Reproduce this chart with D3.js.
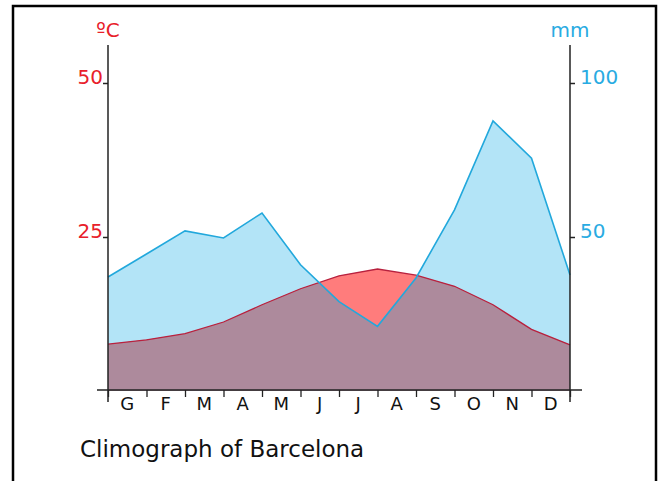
<!DOCTYPE html>
<html><head><meta charset="utf-8">
<script src="https://cdn.jsdelivr.net/npm/d3@7"></script>
<style>body{margin:0;background:#fff}svg{display:block}text{font-family:"DejaVu Sans",Verdana,sans-serif}</style>
</head><body>
<svg id="c" width="660" height="481"></svg>
<script>
const months = ["G","F","M","A","M","J","J","A","S","O","N","D"];
// values at month boundaries (start of Jan ... end of Dec)
const temperature = [7.6, 8.3, 9.3, 11.2, 14, 16.6, 18.7, 19.8, 18.8, 17, 14, 10, 7.5];
const precipitation = [37, 44.5, 52, 49.7, 57.8, 41, 29, 21, 36.7, 58.8, 87.7, 75.6, 37.7];
const tempTicks = [25, 50];
const precTicks = [50, 100];
const title = "Climograph of Barcelona";

const svg = d3.select("#c");
const x = d3.scaleLinear().domain([0, 12]).range([108, 570]);
const band = d3.scaleBand().domain(d3.range(12)).range([108, 570]);
const yT = d3.scaleLinear().domain([0, 50]).range([391, 83]);
const yP = d3.scaleLinear().domain([0, 100]).range([391, 83]);
const condensed = "'DejaVu Sans Condensed', 'DejaVu Sans', Verdana, sans-serif";

// border
svg.append("path").attr("d","M13,490 V6 H656 V490").attr("fill","none").attr("stroke","#000").attr("stroke-width",2.5);

const idx = d3.range(13);
const areaP = d3.area().x(i => x(i)).y0(yP(0)).y1(i => yP(precipitation[i]));
const areaT = d3.area().x(i => x(i)).y0(yT(0)).y1(i => yT(temperature[i]));
const lineP = d3.line().x(i => x(i)).y(i => yP(precipitation[i]));
const lineT = d3.line().x(i => x(i)).y(i => yT(temperature[i]));

svg.append("clipPath").attr("id","clipP").append("path").attr("d", areaP(idx));

svg.append("path").attr("d", areaP(idx)).attr("fill","#b3e4f7");
svg.append("path").attr("d", areaT(idx)).attr("fill","#ff7c7c");
svg.append("path").attr("d", areaT(idx)).attr("fill","#ad8a9c").attr("clip-path","url(#clipP)");
svg.append("path").attr("d", lineT(idx)).attr("fill","none").attr("stroke","#b8213e").attr("stroke-width",1.3);
svg.append("path").attr("d", lineP(idx)).attr("fill","none").attr("stroke","#22a8dc").attr("stroke-width",1.6);

const axisColor = "#222";
// left axis
const gL = svg.append("g").attr("transform","translate(108,0)")
  .call(d3.axisLeft(yT).tickValues(tempTicks).tickSize(5).tickPadding(0));
gL.select(".domain").remove();
gL.selectAll(".tick line").attr("stroke",axisColor).attr("stroke-width",1.5);
gL.selectAll(".tick text").attr("x",-5).attr("dy","0").attr("fill","#e8202a").attr("font-size",20).attr("font-family",condensed);
svg.append("line").attr("x1",108).attr("x2",108).attr("y1",45).attr("y2",402).attr("stroke",axisColor).attr("stroke-width",1.5);

// right axis
const gR = svg.append("g").attr("transform","translate(570,0)")
  .call(d3.axisRight(yP).tickValues(precTicks).tickSize(5).tickPadding(0));
gR.select(".domain").remove();
gR.selectAll(".tick line").attr("stroke",axisColor).attr("stroke-width",1.5);
gR.selectAll(".tick text").attr("x",10).attr("dy","0").attr("fill","#29abe2").attr("font-size",20).attr("font-family",condensed);
svg.append("line").attr("x1",570).attr("x2",570).attr("y1",45).attr("y2",402).attr("stroke",axisColor).attr("stroke-width",1.5);

// bottom axis
const gB = svg.append("g").attr("transform","translate(0,390)")
  .call(d3.axisBottom(x).tickValues(idx).tickSize(7).tickFormat(""));
gB.select(".domain").remove();
gB.selectAll(".tick line").attr("stroke",axisColor).attr("stroke-width",1.3);
svg.append("line").attr("x1",97).attr("x2",582).attr("y1",390).attr("y2",390).attr("stroke",axisColor).attr("stroke-width",1.5);

svg.append("g").selectAll("text").data(months).join("text")
  .attr("x",(d,i)=>band(i)+band.bandwidth()/2).attr("y",410)
  .attr("text-anchor","middle").attr("font-size",18).attr("fill","#111").text(d=>d);

// units
svg.append("text").attr("x",108).attr("y",37).attr("text-anchor","middle").attr("font-size",20).attr("font-family",condensed).attr("fill","#e8202a").text("ºC");
svg.append("text").attr("x",570).attr("y",37).attr("text-anchor","middle").attr("font-size",20).attr("font-family",condensed).attr("fill","#29abe2").text("mm");

svg.append("text").attr("x",80).attr("y",457).attr("font-size",23).attr("fill","#111").text(title);
</script>
</body></html>
